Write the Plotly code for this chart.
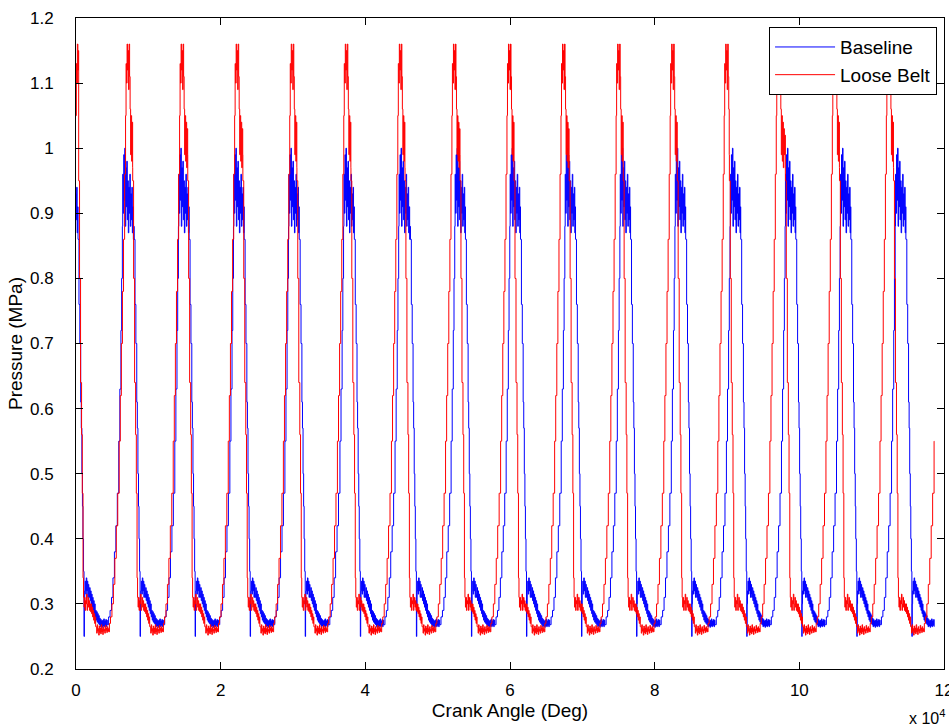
import plotly.graph_objects as go

# cycle positions (crank angle, deg)
# red: angle where the pressure reaches the bottom after each peak
red_cycle_starts = [-5900, 970, 8440, 16050, 23670, 31140, 38610, 46090, 53700,
                    61170, 68790, 76260, 83730, 90930, 98680, 106150, 113630]
# blue: angle of the short dip to 0.25 MPa after each peak
blue_cycle_starts = [-6520, 1110, 8860, 16470, 24080, 31690, 39310, 47060, 54670,
                     62280, 69890, 77500, 85120, 92730, 100340, 107950, 115560]
data_end = 118650

# one cycle of the Loose Belt trace (offset from cycle start, MPa)
red_offsets = [-600, -480, -340, -200, -100, 0, 70,
               140, 210, 280, 350, 420, 490, 560, 630, 700, 770, 840, 910, 980, 1050,
               1120, 1190, 1260, 1330, 1400, 1470, 1540, 1610, 1680, 1750,
               1820, 1890, 1960, 2030, 2100, 2170, 2240, 2310, 2380, 2450, 2520, 2590, 2660,
               2730, 2800, 2870, 2940, 3010, 3080, 3150, 3220, 3290, 3360, 3430, 3500, 3570,
               3650, 3800, 4000, 4200, 4400, 4600, 4800, 5000, 5150, 5300, 5450, 5600, 5750, 5880,
               5950, 6020, 6090, 6160, 6230, 6300, 6370, 6440, 6510, 6580, 6650, 6720, 6790,
               6860, 6930, 7000, 7070, 7140, 7210, 7280, 7350, 7420, 7490, 7560]
red_values = [0.95, 0.80, 0.64, 0.56, 0.47, 0.34, 0.31,
              0.295, 0.31, 0.29, 0.305, 0.30, 0.315, 0.29, 0.30, 0.31, 0.295, 0.305, 0.29, 0.30, 0.288,
              0.30, 0.285, 0.295, 0.28, 0.29, 0.275, 0.285, 0.27, 0.28, 0.265,
              0.265, 0.255, 0.268, 0.258, 0.262, 0.252, 0.266, 0.256, 0.263, 0.254, 0.268, 0.257, 0.262,
              0.253, 0.265, 0.258, 0.261, 0.255, 0.267, 0.259, 0.263, 0.256, 0.265, 0.258, 0.262, 0.257,
              0.27, 0.28, 0.30, 0.33, 0.37, 0.42, 0.47, 0.55, 0.62, 0.70, 0.78, 0.86, 0.96, 1.05,
              1.13, 1.10, 1.16, 1.12, 1.15, 1.09, 1.16, 1.11, 1.06, 0.99, 1.05, 0.98, 1.04,
              0.97, 1.03, 0.99, 1.02, 0.96, 1.00, 0.95, 0.98, 0.94, 0.97, 0.95]

# one cycle of the Baseline trace
blue_offsets = [-830, -700, -580, -460, -380, -300, -220, -150, -70, 0, 50,
                100, 170, 240, 310, 380, 450, 520, 590, 660,
                700, 770, 840, 910, 980, 1050, 1120, 1190, 1260, 1330,
                1400, 1470, 1540, 1610, 1680, 1750, 1820, 1890, 1960, 2030,
                2100, 2170, 2240, 2310, 2380, 2450, 2520, 2590, 2660, 2730, 2800, 2870, 2940,
                3010, 3080, 3150, 3220,
                3400, 3600, 3800, 4000, 4200, 4400, 4600, 4800, 4950, 5100, 5200, 5300,
                5350, 5420, 5490, 5560, 5630, 5700, 5770, 5840, 5910, 5980, 6050, 6120, 6190,
                6260, 6330, 6400, 6470, 6540, 6610, 6680, 6750, 6820, 6900, 7000]
blue_values = [0.86, 0.76, 0.70, 0.61, 0.57, 0.50, 0.45, 0.40, 0.35, 0.25, 0.30,
               0.32, 0.335, 0.315, 0.34, 0.32, 0.335, 0.31, 0.33, 0.315,
               0.31, 0.325, 0.305, 0.32, 0.30, 0.315, 0.295, 0.31, 0.29, 0.305,
               0.285, 0.30, 0.28, 0.29, 0.275, 0.288, 0.272, 0.285, 0.27, 0.282,
               0.268, 0.278, 0.265, 0.276, 0.266, 0.274, 0.264, 0.275, 0.266, 0.277, 0.265, 0.274, 0.267,
               0.276, 0.265, 0.275, 0.268,
               0.28, 0.29, 0.31, 0.34, 0.38, 0.42, 0.47, 0.55, 0.63, 0.72, 0.80, 0.88,
               0.96, 0.90, 0.99, 0.92, 1.00, 0.88, 0.97, 0.91, 0.98, 0.89, 0.95, 0.87, 0.94,
               0.90, 0.96, 0.88, 0.93, 0.89, 0.94, 0.87, 0.91, 0.86, 0.88, 0.86]

x_tick_vals = [0, 20000, 40000, 60000, 80000, 100000, 120000]
x_tick_text = ["0", "2", "4", "6", "8", "10", "12"]
y_tick_vals = [0.2, 0.3, 0.4, 0.5, 0.6, 0.7, 0.8, 0.9, 1.0, 1.1, 1.2]
y_tick_text = ["0.2", "0.3", "0.4", "0.5", "0.6", "0.7", "0.8", "0.9", "1", "1.1", "1.2"]


def build_trace(starts, offsets, values, end):
    xs, ys = [], []
    for k, s in enumerate(starts):
        nxt = starts[k + 1] + offsets[0] if k + 1 < len(starts) else float("inf")
        for o, v in zip(offsets, values):
            if s + o < nxt:
                xs.append(s + o)
                ys.append(v)
    # clip to the visible record
    first = max(i for i, x in enumerate(xs) if x <= 0)
    xs, ys = [0] + xs[first + 1:], [ys[first]] + ys[first + 1:]
    last = max(i for i, x in enumerate(xs) if x <= end)
    xs, ys = xs[:last + 1] + [end], ys[:last + 1] + [ys[last]]
    return xs, ys


bx, by = build_trace(blue_cycle_starts, blue_offsets, blue_values, data_end)
rx, ry = build_trace(red_cycle_starts, red_offsets, red_values, data_end)

fig = go.Figure()
fig.add_trace(go.Scatter(x=bx, y=by, mode='lines', name='Baseline',
                         line=dict(color='#0000ff', width=1, shape='hv')))
fig.add_trace(go.Scatter(x=rx, y=ry, mode='lines', name='Loose Belt',
                         line=dict(color='#ff0000', width=1, shape='hv')))

axis_style = dict(showline=True, linecolor='black', linewidth=1, mirror='ticks',
                  ticks='inside', ticklen=7, tickcolor='black', showgrid=False,
                  zeroline=False, tickfont=dict(size=17))
fig.update_xaxes(range=[0, 120000], tickvals=x_tick_vals, ticktext=x_tick_text,
                 title=dict(text='Crank Angle (Deg)', standoff=4),
                 ticklabelstandoff=6, ticklabeloverflow='allow', **axis_style)
fig.update_yaxes(range=[0.2, 1.2], tickvals=y_tick_vals, ticktext=y_tick_text,
                 title=dict(text='Pressure (MPa)', standoff=2),
                 ticklabelstandoff=18, **axis_style)

fig.add_annotation(text='x 10<sup>4</sup>', xref='paper', yref='paper',
                   x=1.003, y=-0.074, xanchor='right', yanchor='middle',
                   showarrow=False, font=dict(size=16))

fig.update_layout(width=949, height=728, autosize=False,
                  margin=dict(l=76, r=5, t=18, b=59, autoexpand=False),
                  plot_bgcolor='white', paper_bgcolor='white',
                  font=dict(family='Liberation Sans, Arial, sans-serif', size=16, color='black'),
                  legend=dict(x=0.992, y=0.986, xanchor='right', yanchor='top',
                              bordercolor='black', borderwidth=1, bgcolor='white',
                              font=dict(size=19), itemwidth=60,
                              tracegroupgap=0))
fig.write_html("out.html", config={'displayModeBar': False},
               post_script="document.body.style.margin='0';")
